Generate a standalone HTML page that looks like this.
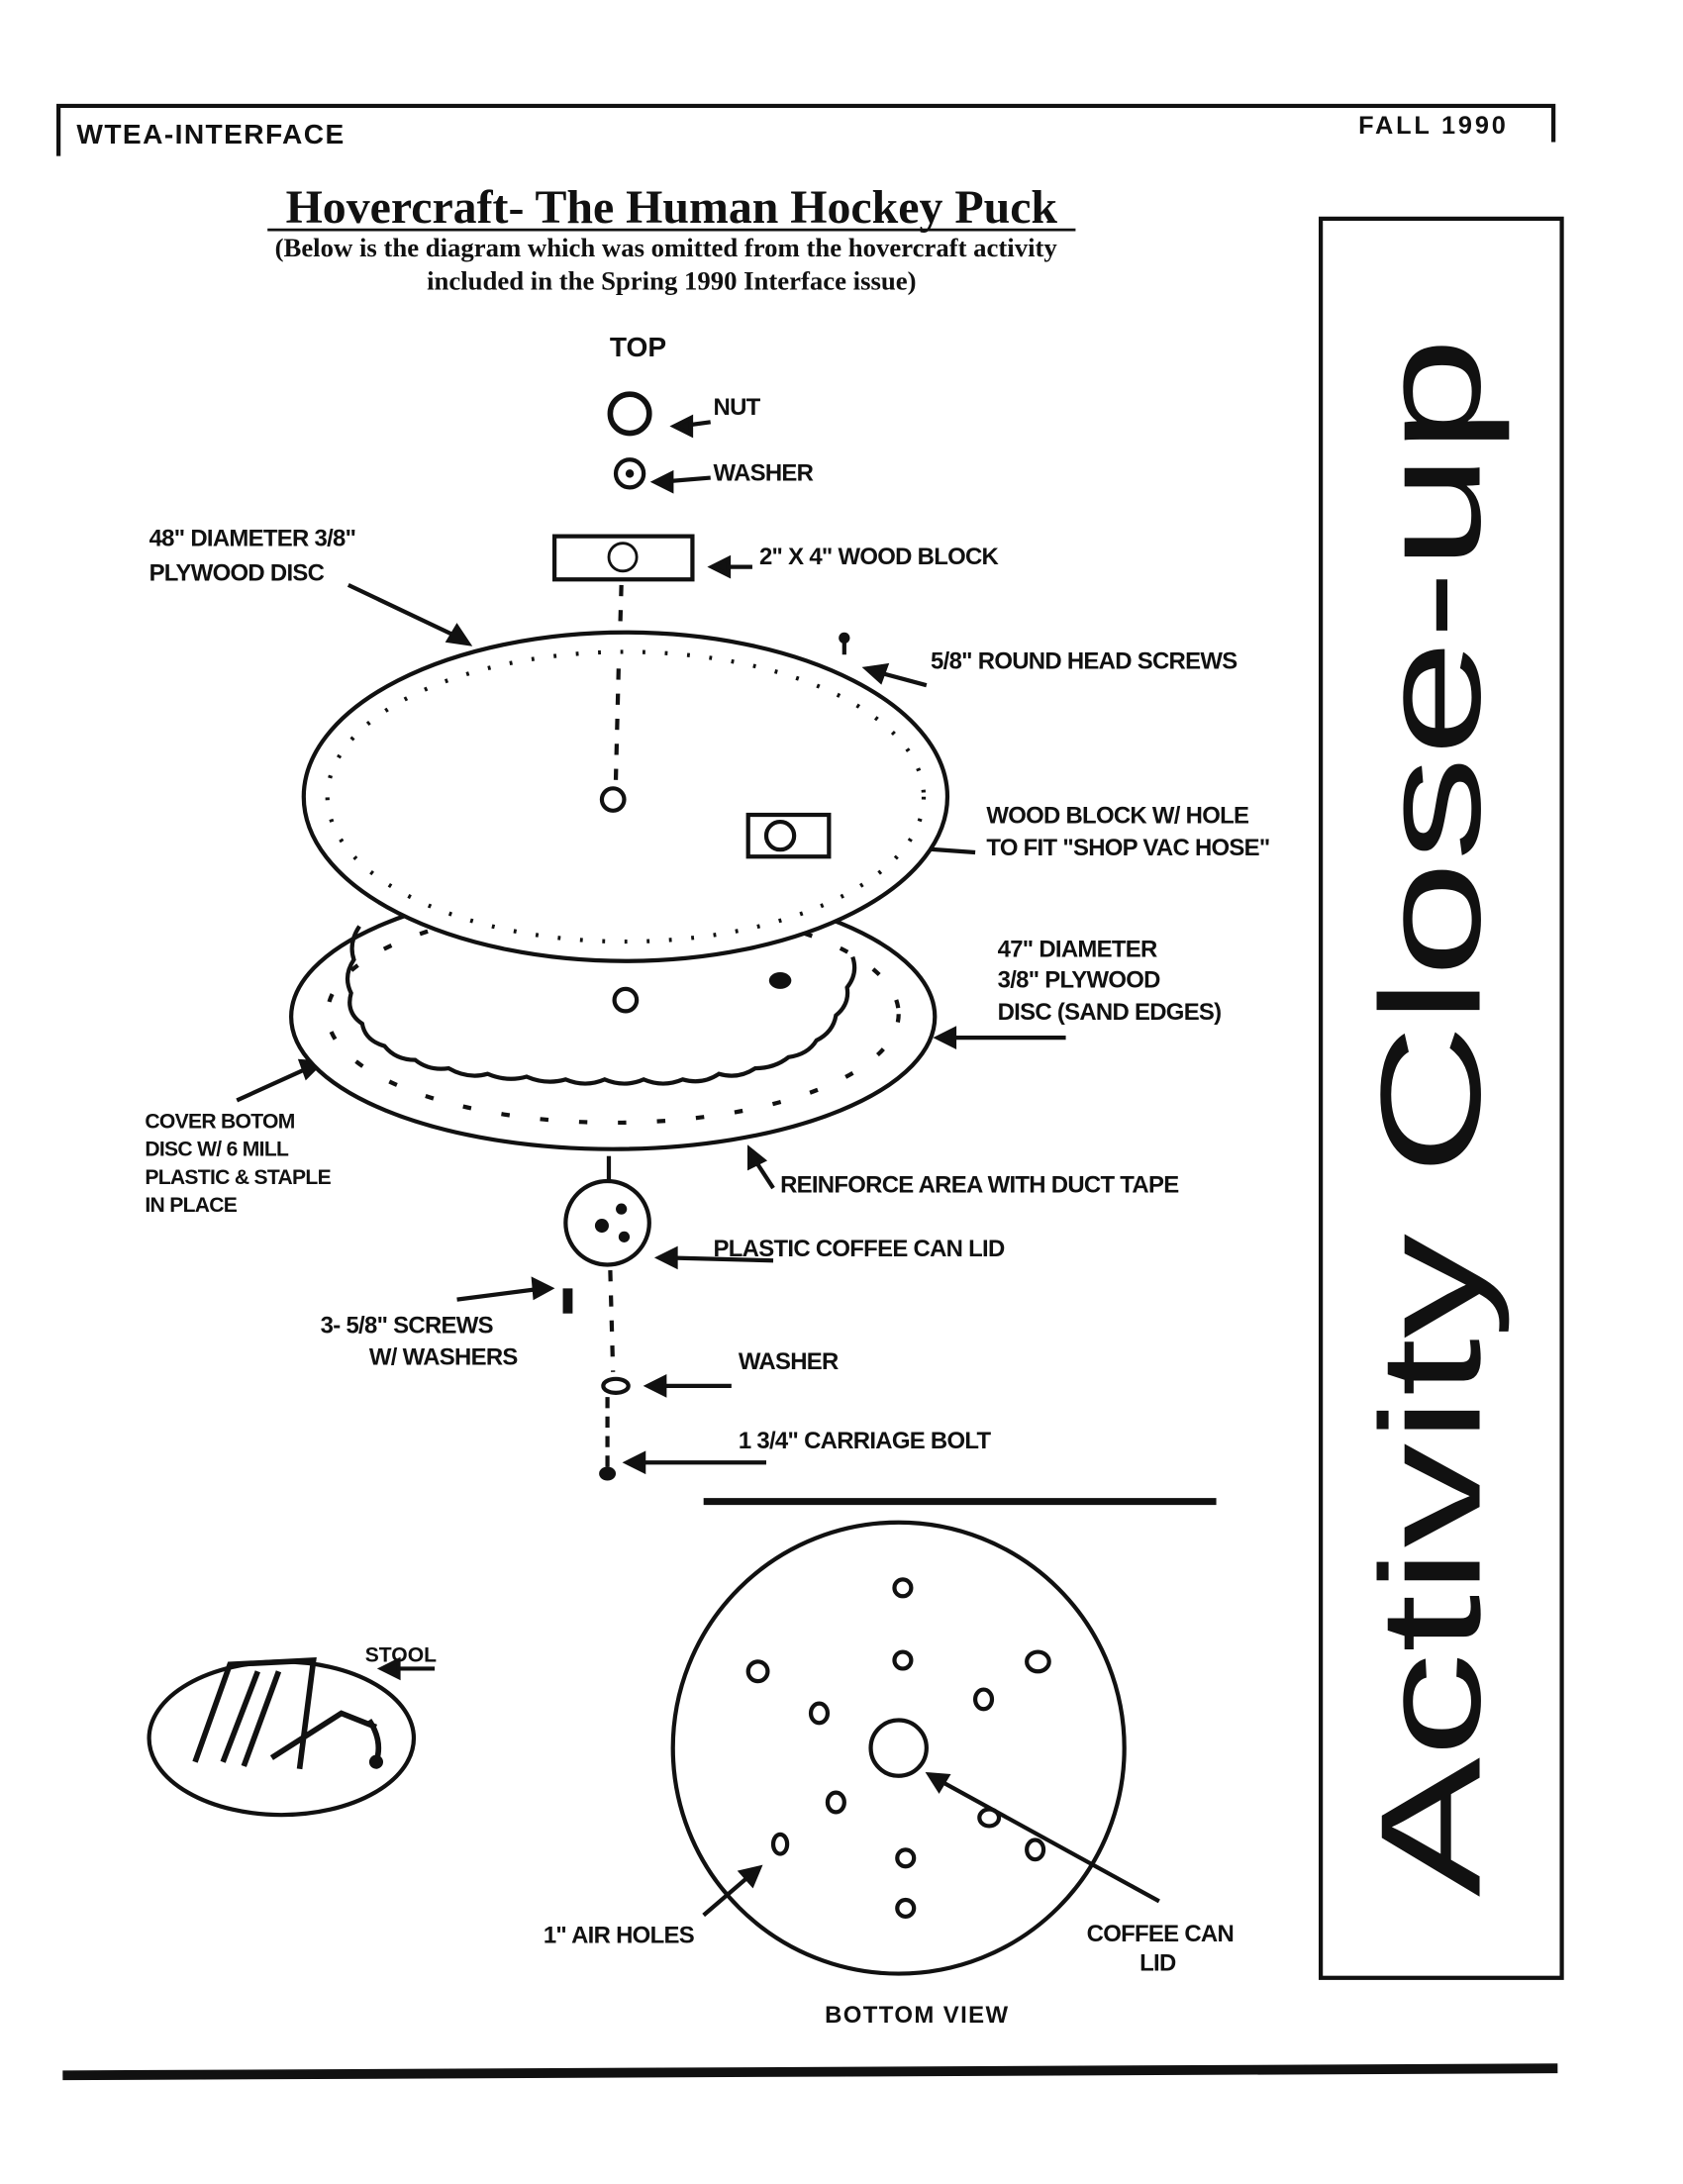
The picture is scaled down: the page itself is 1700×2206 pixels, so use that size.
<!DOCTYPE html>
<html><head><meta charset="utf-8"><style>
html,body{margin:0;padding:0;background:#fff;}
svg{display:block;}
text{font-family:"Liberation Sans",sans-serif;fill:#111;}
.s{font-size:17px;font-weight:bold;letter-spacing:-0.5px;}
.serif{font-family:"Liberation Serif",serif;}
</style></head><body>
<svg width="1700" height="2206" viewBox="0 0 1208 1568" preserveAspectRatio="none" xmlns="http://www.w3.org/2000/svg">
<rect width="1208" height="1568" fill="#fff"/>
<path d="M42 112 V76 H1115 V102" fill="none" stroke="#111" stroke-width="3"/>
<text x="55" y="103" style="font-size:20px;font-weight:bold;letter-spacing:1px">WTEA-INTERFACE</text>
<text x="975" y="96" style="font-size:18px;font-weight:bold;letter-spacing:2px">FALL 1990</text>
<text x="482" y="160" text-anchor="middle" class="serif" style="font-size:34px;font-weight:bold">Hovercraft- The Human Hockey Puck</text>
<line x1="192" y1="165" x2="772" y2="165" stroke="#111" stroke-width="2"/>
<text x="478" y="184" text-anchor="middle" class="serif" style="font-size:19px;font-weight:bold">(Below is the diagram which was omitted from the hovercraft activity</text>
<text x="482" y="208" text-anchor="middle" class="serif" style="font-size:19px;font-weight:bold">included in the Spring 1990 Interface issue)</text>
<rect x="948" y="157" width="173" height="1263" fill="none" stroke="#111" stroke-width="3"/>
<text transform="translate(1062,802) rotate(-90)" text-anchor="middle" textLength="1120" lengthAdjust="spacingAndGlyphs" style="font-size:102px">Activity Close-up</text>
<text x="458" y="256" text-anchor="middle" style="font-size:20px;font-weight:bold">TOP</text>
<circle cx="452" cy="297" r="14" fill="none" stroke="#111" stroke-width="4"/>
<circle cx="452" cy="340" r="10" fill="none" stroke="#111" stroke-width="3"/>
<circle cx="452" cy="340" r="3" fill="#111"/>
<rect x="398" y="385" width="99" height="31" fill="none" stroke="#111" stroke-width="3"/>
<circle cx="447" cy="400" r="10" fill="none" stroke="#111" stroke-width="2"/>
<line x1="446" y1="420" x2="442" y2="560" stroke="#111" stroke-width="3" stroke-dasharray="8 10"/>
<g stroke="#111" stroke-width="3" fill="#111">
<line x1="510" y1="303" x2="488" y2="306"/><polygon points="484,306 496,300 496,312"/>
<line x1="510" y1="343" x2="474" y2="346"/><polygon points="470,346 482,340 482,352"/>
<line x1="540" y1="407" x2="515" y2="407"/><polygon points="511,407 523,401 523,413"/>
<line x1="250" y1="420" x2="330" y2="458"/><polygon points="336,462 322,460 328,450"/>
<line x1="665" y1="492" x2="628" y2="482"/><polygon points="622,480 636,478 632,489"/>
<line x1="700" y1="612" x2="602" y2="605"/><polygon points="597,605 609,599 609,611"/>
<line x1="765" y1="745" x2="678" y2="745"/><polygon points="673,745 685,739 685,751"/>
<line x1="170" y1="790" x2="225" y2="765"/><polygon points="230,763 220,773 216,762"/>
<line x1="555" y1="853" x2="540" y2="830"/><polygon points="538,825 548,833 538,838"/>
<line x1="555" y1="905" x2="478" y2="903"/><polygon points="473,903 485,897 485,909"/>
<line x1="328" y1="933" x2="390" y2="925"/><polygon points="395,925 384,931 383,919"/>
<line x1="525" y1="995" x2="470" y2="995"/><polygon points="465,995 477,989 477,1001"/>
<line x1="550" y1="1050" x2="455" y2="1050"/><polygon points="450,1050 462,1044 462,1056"/>
<line x1="312" y1="1198" x2="280" y2="1198"/><polygon points="274,1198 286,1192 286,1204"/>
<line x1="505" y1="1375" x2="540" y2="1345"/><polygon points="545,1341 540,1353 532,1344"/>
<line x1="832" y1="1365" x2="672" y2="1277"/><polygon points="667,1274 680,1275 674,1285"/>
</g>
<text x="512" y="298" class="s">NUT</text>
<text x="512" y="345" class="s">WASHER</text>
<text x="107" y="392" class="s">48" DIAMETER 3/8"</text>
<text x="107" y="417" class="s">PLYWOOD DISC</text>
<text x="545" y="405" class="s">2" X 4" WOOD BLOCK</text>
<text x="668" y="480" class="s">5/8" ROUND HEAD SCREWS</text>
<text x="708" y="591" class="s">WOOD BLOCK W/ HOLE</text>
<text x="708" y="614" class="s">TO FIT "SHOP VAC HOSE"</text>
<text x="716" y="687" class="s">47" DIAMETER</text>
<text x="716" y="709" class="s">3/8" PLYWOOD</text>
<text x="716" y="732" class="s">DISC (SAND EDGES)</text>
<text x="104" y="810" style="font-size:15px;font-weight:bold;letter-spacing:-0.5px">COVER BOTOM</text>
<text x="104" y="830" style="font-size:15px;font-weight:bold;letter-spacing:-0.5px">DISC W/ 6 MILL</text>
<text x="104" y="850" style="font-size:15px;font-weight:bold;letter-spacing:-0.5px">PLASTIC &amp; STAPLE</text>
<text x="104" y="870" style="font-size:15px;font-weight:bold;letter-spacing:-0.5px">IN PLACE</text>
<text x="560" y="856" class="s">REINFORCE AREA WITH DUCT TAPE</text>
<text x="512" y="902" class="s">PLASTIC COFFEE CAN LID</text>
<text x="230" y="957" class="s">3- 5/8" SCREWS</text>
<text x="265" y="980" class="s">W/ WASHERS</text>
<text x="530" y="983" class="s">WASHER</text>
<text x="530" y="1040" class="s">1 3/4" CARRIAGE BOLT</text>
<text x="262" y="1193" style="font-size:15px;font-weight:bold">STOOL</text>
<text x="390" y="1395" class="s">1" AIR HOLES</text>
<text x="780" y="1394" class="s">COFFEE CAN</text>
<text x="818" y="1415" class="s">LID</text>
<text x="592" y="1452" style="font-size:17px;font-weight:bold;letter-spacing:1px">BOTTOM VIEW</text>
<ellipse cx="440" cy="730" rx="231" ry="95" fill="#fff" stroke="#111" stroke-width="3"/>
<ellipse cx="440" cy="728" rx="205" ry="78" fill="none" stroke="#111" stroke-width="3" stroke-dasharray="6 22"/>
<path d="M258 665 q-8 12 -4 24 q-8 12 -2 24 q-4 14 8 22 q2 12 16 16 q8 10 22 10 q10 8 24 6 q14 8 28 4 q14 6 28 2 q14 6 28 2 q14 6 28 0 q14 6 28 0 q14 6 28 0 q14 4 26 -4 q14 4 26 -4 q14 0 24 -8 q14 -2 20 -12 q12 -6 14 -18 q10 -8 8 -20 q8 -10 4 -22" fill="none" stroke="#111" stroke-width="3"/>
<circle cx="449" cy="718" r="8" fill="none" stroke="#111" stroke-width="3"/>
<ellipse cx="560" cy="704" rx="8" ry="6" fill="#111"/>
<ellipse cx="449" cy="572" rx="231" ry="118" fill="#fff" stroke="#111" stroke-width="3"/>
<ellipse cx="449" cy="572" rx="214" ry="104" fill="none" stroke="#111" stroke-width="3" stroke-dasharray="2 14"/>
<line x1="444" y1="480" x2="442" y2="560" stroke="#111" stroke-width="3" stroke-dasharray="8 10"/>
<circle cx="440" cy="574" r="8" fill="none" stroke="#111" stroke-width="3"/>
<rect x="537" y="585" width="58" height="30" fill="none" stroke="#111" stroke-width="3"/>
<circle cx="560" cy="600" r="10" fill="none" stroke="#111" stroke-width="3"/>
<circle cx="606" cy="458" r="4" fill="#111"/><line x1="606" y1="458" x2="606" y2="470" stroke="#111" stroke-width="3"/>
<line x1="437" y1="830" x2="437" y2="848" stroke="#111" stroke-width="3"/>
<circle cx="436" cy="878" r="30" fill="#fff" stroke="#111" stroke-width="3"/>
<circle cx="432" cy="880" r="5" fill="#111"/><circle cx="446" cy="868" r="4" fill="#111"/><circle cx="448" cy="888" r="4" fill="#111"/>
<line x1="438" y1="912" x2="440" y2="985" stroke="#111" stroke-width="3" stroke-dasharray="8 10"/>
<rect x="404" y="925" width="7" height="18" fill="#111"/>
<ellipse cx="442" cy="995" rx="9" ry="5" fill="none" stroke="#111" stroke-width="3"/>
<line x1="436" y1="1003" x2="436" y2="1055" stroke="#111" stroke-width="3" stroke-dasharray="8 6"/>
<ellipse cx="436" cy="1058" rx="6" ry="5" fill="#111"/>
<line x1="505" y1="1078" x2="873" y2="1078" stroke="#111" stroke-width="5"/>
<circle cx="645" cy="1255" r="162" fill="none" stroke="#111" stroke-width="3"/>
<circle cx="645" cy="1255" r="20" fill="none" stroke="#111" stroke-width="3"/>
<g fill="none" stroke="#111" stroke-width="3">
<ellipse cx="648" cy="1140" rx="6" ry="6"/><ellipse cx="648" cy="1192" rx="6" ry="6"/>
<ellipse cx="544" cy="1200" rx="7" ry="7"/><ellipse cx="745" cy="1193" rx="8" ry="7"/>
<ellipse cx="588" cy="1230" rx="6" ry="7"/><ellipse cx="706" cy="1220" rx="6" ry="7"/>
<ellipse cx="600" cy="1294" rx="6" ry="7"/><ellipse cx="710" cy="1305" rx="7" ry="6"/>
<ellipse cx="560" cy="1324" rx="5" ry="7"/><ellipse cx="743" cy="1328" rx="6" ry="7"/>
<ellipse cx="650" cy="1334" rx="6" ry="6"/><ellipse cx="650" cy="1370" rx="6" ry="6"/>
</g>
<ellipse cx="202" cy="1248" rx="95" ry="55" fill="none" stroke="#111" stroke-width="3"/>
<path d="M140 1265 L165 1195 L225 1192 L215 1270 M160 1265 L185 1200 M175 1268 L200 1200 M195 1262 L245 1230 L270 1240 M265 1235 q10 15 5 30" fill="none" stroke="#111" stroke-width="4"/>
<circle cx="270" cy="1265" r="5" fill="#111"/>
<line x1="45" y1="1490" x2="1118" y2="1485" stroke="#111" stroke-width="7"/>
</svg>
</body></html>
